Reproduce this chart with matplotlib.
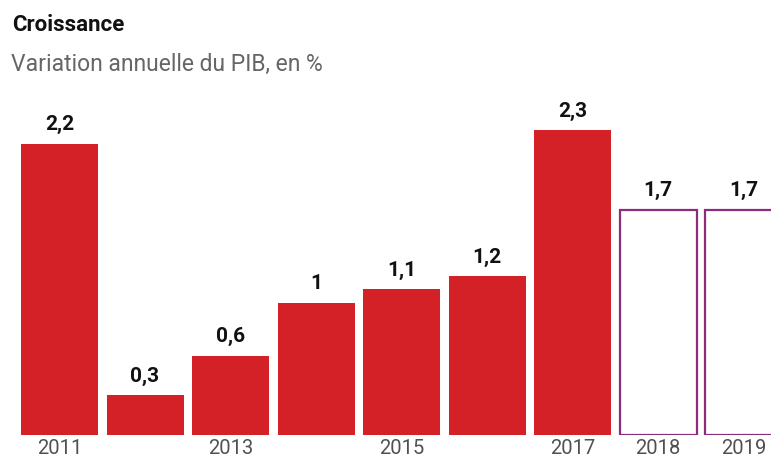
import matplotlib.pyplot as plt

years = [2011, 2012, 2013, 2014, 2015, 2016, 2017, 2018, 2019]
values = [2.2, 0.3, 0.6, 1.0, 1.1, 1.2, 2.3, 1.7, 1.7]
value_labels = ["2,2", "0,3", "0,6", "1", "1,1", "1,2", "2,3", "1,7", "1,7"]
tick_labels = ["2011", "", "2013", "", "2015", "", "2017", "2018", "2019"]
forecast = [False, False, False, False, False, False, False, True, True]

red = "#d42127"
purple = "#8b2c7c"

plt.rcParams['font.family'] = ['Roboto', 'DejaVu Sans']

fig = plt.figure(figsize=(7.71, 4.62), dpi=100)
ax = fig.add_axes([0, 27 / 462, 1, 2.6 * 132.5 / 462])

for x, v, f, lab in zip(years, values, forecast, value_labels):
    if f:
        ax.bar(x, v, width=0.9, color="white", edgecolor=purple, linewidth=1.6)
    else:
        ax.bar(x, v, width=0.9, color=red, linewidth=0)
    ax.text(x, v + 0.07, lab, ha="center", va="bottom", fontsize=15,
            fontweight="bold", color="#111111")

ax.set_xlim(2010.304, 2019.32)
ax.set_ylim(0, 2.6)
ax.set_xticks(years)
ax.set_xticklabels(tick_labels, fontsize=14.5, color="#505050")
ax.tick_params(axis="x", length=0, pad=3)
ax.set_yticks([])
for s in ax.spines.values():
    s.set_visible(False)

fig.text(12 / 771, 1 - 25 / 462, "Croissance", fontsize=16, fontweight="bold",
         color="#111111", va="center", ha="left")
fig.text(11 / 771, 1 - 64 / 462, "Variation annuelle du PIB, en %", fontsize=16.5,
         color="#666666", va="center", ha="left")

fig.savefig("out.png", dpi=100)
